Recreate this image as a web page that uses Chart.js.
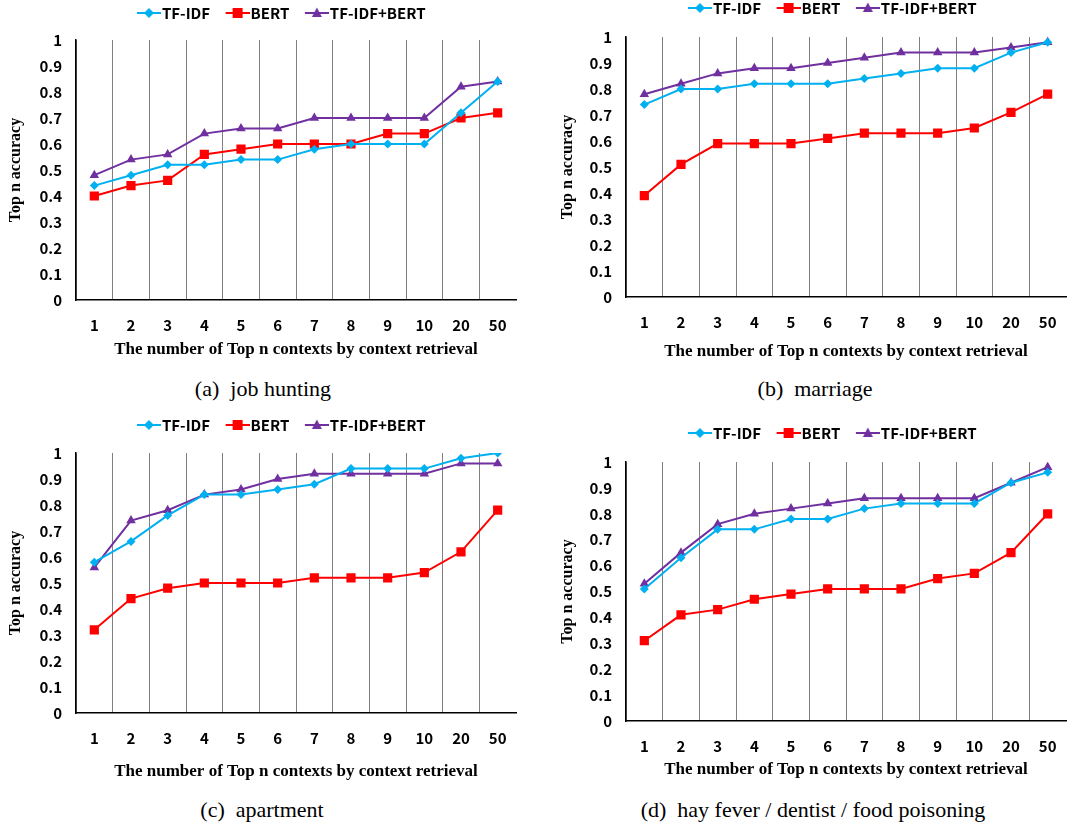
<!DOCTYPE html>
<html>
<head>
<meta charset="utf-8">
<script src="https://cdn.jsdelivr.net/npm/chart.js@4.4.1/dist/chart.umd.min.js"></script>
<style>
  body { margin: 0; background: #fff; width: 1086px; height: 824px; position: relative; overflow: hidden; }
  .panel { position: absolute; width: 543px; }
  .cap { position: absolute; font-family: "Liberation Serif", serif; font-size: 22px; line-height: 25px; color: #000; white-space: pre; transform: translateX(-50%); }
</style>
</head>
<body>
<div class="panel" style="left:0;top:0;height:362px"><canvas id="chartA"></canvas></div>
<div class="panel" style="left:543px;top:0;height:364px"><canvas id="chartB"></canvas></div>
<div class="panel" style="left:0;top:410px;height:374px"><canvas id="chartC"></canvas></div>
<div class="panel" style="left:543px;top:410px;height:372px"><canvas id="chartD"></canvas></div>
<div class="cap" style="left:263px;top:376px">(a)  job hunting</div>
<div class="cap" style="left:815px;top:376px">(b)  marriage</div>
<div class="cap" style="left:262px;top:797px">(c)  apartment</div>
<div class="cap" style="left:813px;top:797px">(d)  hay fever / dentist / food poisoning</div>
<script>
const categories = ['1', '2', '3', '4', '5', '6', '7', '8', '9', '10', '20', '50'];
const seriesNames = ['TF-IDF', 'BERT', 'TF-IDF+BERT'];

// (a) job hunting
const jobTfidf = [0.44, 0.48, 0.52, 0.52, 0.54, 0.54, 0.58, 0.60, 0.60, 0.60, 0.72, 0.84];
const jobBert  = [0.40, 0.44, 0.46, 0.56, 0.58, 0.60, 0.60, 0.60, 0.64, 0.64, 0.70, 0.72];
const jobBoth  = [0.48, 0.54, 0.56, 0.64, 0.66, 0.66, 0.70, 0.70, 0.70, 0.70, 0.82, 0.84];

// (b) marriage
const marTfidf = [0.74, 0.80, 0.80, 0.82, 0.82, 0.82, 0.84, 0.86, 0.88, 0.88, 0.94, 0.98];
const marBert  = [0.39, 0.51, 0.59, 0.59, 0.59, 0.61, 0.63, 0.63, 0.63, 0.65, 0.71, 0.78];
const marBoth  = [0.78, 0.82, 0.86, 0.88, 0.88, 0.90, 0.92, 0.94, 0.94, 0.94, 0.96, 0.98];

// (c) apartment
const aptTfidf = [0.58, 0.66, 0.76, 0.84, 0.84, 0.86, 0.88, 0.94, 0.94, 0.94, 0.98, 1.00];
const aptBert  = [0.32, 0.44, 0.48, 0.50, 0.50, 0.50, 0.52, 0.52, 0.52, 0.54, 0.62, 0.78];
const aptBoth  = [0.56, 0.74, 0.78, 0.84, 0.86, 0.90, 0.92, 0.92, 0.92, 0.92, 0.96, 0.96];

// (d) hay fever / dentist / food poisoning
const etcTfidf = [0.51, 0.63, 0.74, 0.74, 0.78, 0.78, 0.82, 0.84, 0.84, 0.84, 0.92, 0.96];
const etcBert  = [0.31, 0.41, 0.43, 0.47, 0.49, 0.51, 0.51, 0.51, 0.55, 0.57, 0.65, 0.80];
const etcBoth  = [0.53, 0.65, 0.76, 0.80, 0.82, 0.84, 0.86, 0.86, 0.86, 0.86, 0.92, 0.98];

const colors = ['#00b0f0', '#ff0000', '#7030a0'];
const markers = ['rectRot', 'rect', 'triangle'];
const radii = [4.5, 6.5, 5.5];

const sansBold = { family: '"Noto Sans CJK JP", "Noto Sans", sans-serif', size: 15, weight: 'bold' };
const serifBold = { family: '"Liberation Serif", serif', size: 17, weight: 'bold' };

// line+marker picture for the legend (blank strip on the left gives the gap between items)
function legendIcon(i) {
  const c = document.createElement('canvas');
  c.width = 41; c.height = 14;
  const g = c.getContext('2d');
  g.strokeStyle = colors[i]; g.fillStyle = colors[i]; g.lineWidth = 2;
  g.beginPath(); g.moveTo(17, 7); g.lineTo(41, 7); g.stroke();
  g.beginPath();
  if (i === 0) { g.moveTo(29, 2); g.lineTo(34, 7); g.lineTo(29, 12); g.lineTo(24, 7); }
  else if (i === 1) { g.rect(24, 2, 10, 10); }
  else { g.moveTo(29, 1.5); g.lineTo(34, 11); g.lineTo(24, 11); }
  g.closePath(); g.fill();
  return c;
}
const icons = [0, 1, 2].map(legendIcon);

function makeChart(id, values, box) {
  new Chart(document.getElementById(id), {
    type: 'line',
    data: {
      labels: categories,
      datasets: values.map((v, i) => ({
        label: seriesNames[i],
        data: v,
        borderColor: colors[i],
        backgroundColor: colors[i],
        borderWidth: 2,
        pointStyle: markers[i],
        pointRadius: radii[i],
        pointBorderWidth: 0,
        tension: 0
      }))
    },
    options: {
      responsive: true,
      maintainAspectRatio: false,
      animation: false,
      layout: { padding: { left: 0, right: box.right, top: box.top, bottom: 0 } },
      plugins: {
        tooltip: { enabled: false },
        legend: {
          position: 'top',
          labels: {
            usePointStyle: true,
            pointStyleWidth: 28,
            boxHeight: 14,
            color: '#000',
            font: sansBold,
            padding: 5,
            generateLabels: chart => Chart.defaults.plugins.legend.labels.generateLabels(chart)
              .map((l, i) => Object.assign(l, { pointStyle: icons[i] }))
          }
        }
      },
      scales: {
        x: {
          offset: true,
          afterFit: s => { s.height = box.xHeight; },
          grid: {
            offset: true,
            drawTicks: false,
            color: ctx => ctx.tick ? '#808080' : 'rgba(0,0,0,0)',
            lineWidth: 1
          },
          border: { color: '#000', width: 1.5 },
          ticks: { color: '#000', font: sansBold, padding: 16, maxRotation: 0, autoSkip: false },
          title: { display: true, text: 'The number of Top n contexts by context retrieval', color: '#000', font: serifBold, padding: { top: 0, bottom: 2 } }
        },
        y: {
          min: 0,
          max: 1,
          afterFit: s => { s.width = box.yWidth; },
          grid: { display: false, drawTicks: false },
          border: { color: '#000', width: 1.5 },
          ticks: { stepSize: 0.1, color: '#000', font: sansBold, padding: 14, callback: v => String(Math.round(v * 10) / 10) },
          title: { display: true, text: 'Top n accuracy', color: '#000', font: { family: '"Liberation Serif", serif', size: 16, weight: 'bold' }, padding: { top: box.titleShift, bottom: 0 } }
        }
      }
    },
    plugins: [{
      id: 'legendBox',
      beforeInit(chart) {
        const fit = chart.legend.fit;
        chart.legend.fit = function () { fit.call(this); this.height = box.legendHeight; };
      },
      afterLayout(chart) {
        chart.legend.left += box.legendShift;
        chart.legend.right += box.legendShift;
      }
    }]
  });
}

makeChart('chartA', [jobTfidf, jobBert, jobBoth], { right: 27, top: 0.5, legendHeight: 39.5, yWidth: 76, xHeight: 62, titleShift: 6.4, legendShift: 18 });
makeChart('chartB', [marTfidf, marBert, marBoth], { right: 20, top: -4.5, legendHeight: 41.5, yWidth: 83, xHeight: 67, titleShift: 14.9, legendShift: 22.5 });
makeChart('chartC', [aptTfidf, aptBert, aptBoth], { right: 27, top: 2.5, legendHeight: 40.5, yWidth: 76, xHeight: 71, titleShift: 6.4, legendShift: 18 });
makeChart('chartD', [etcTfidf, etcBert, etcBoth], { right: 20, top: 10.5, legendHeight: 41.5, yWidth: 83, xHeight: 61, titleShift: 14.9, legendShift: 22.5 });
</script>
</body>
</html>
